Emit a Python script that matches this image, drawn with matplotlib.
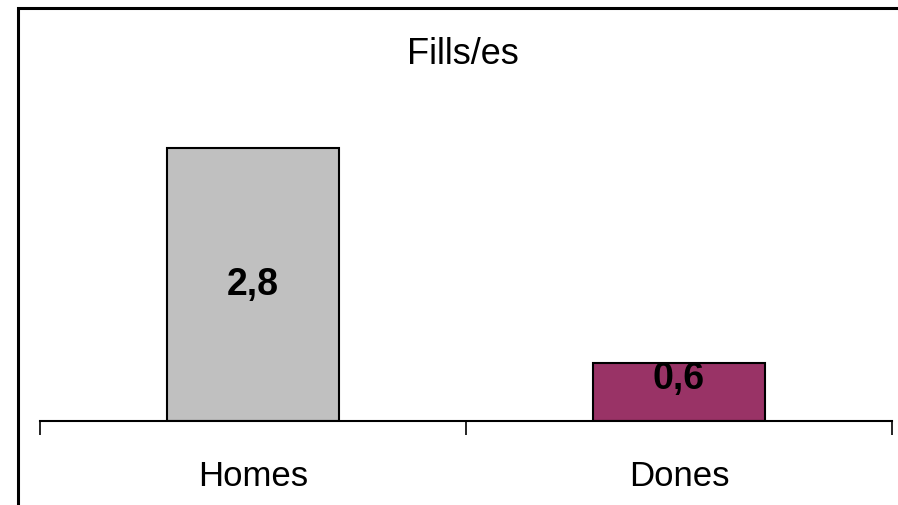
import matplotlib
matplotlib.use('Agg')
import matplotlib.pyplot as plt
from matplotlib.patches import Rectangle

categories = ['Homes', 'Dones']
values = [2.8, 0.6]
value_labels = ['2,8', '0,6']
bar_colors = ['#C0C0C0', '#993366']
title = 'Fills/es'

plt.rcParams['font.family'] = ['Liberation Sans', 'DejaVu Sans']

fig = plt.figure(figsize=(8.98, 5.05), dpi=100)
ax = fig.add_axes([0.0445, 0.1663, 0.9488, 0.6753])

x = range(len(categories))
bars = ax.bar(x, values, width=0.404, color=bar_colors, edgecolor='black', linewidth=1.5)

# value labels, pushed up inside short bars
for b, v, lab in zip(bars, values, value_labels):
    y = max(v / 2, 0.43)
    ax.text(b.get_x() + b.get_width() / 2, y, lab, ha='center', va='center',
            fontsize=27, fontweight='bold')

ax.set_xlim(-0.5, 1.5)
ax.set_ylim(0, 3.5)
ax.set_xticks([-0.5, 0.5, 1.5], minor=False)
ax.set_xticklabels([])
ax.set_xticks(list(x), minor=True)
ax.set_xticklabels(categories, minor=True, fontsize=25)
ax.tick_params(axis='x', which='major', direction='out', length=10, width=1.2)
ax.tick_params(axis='x', which='minor', length=0, pad=28)
ax.set_yticks([])
for s in ['top', 'right', 'left']:
    ax.spines[s].set_visible(False)
ax.spines['bottom'].set_linewidth(1.5)

fig.text(463 / 898, 1 - 54 / 505, title, ha='center', va='center', fontsize=26)

# outer chart border (runs off right and bottom)
fig.patches.append(Rectangle((17.5 / 898, -0.05), 1.2, 1 - 7.5 / 505 + 0.05,
                             transform=fig.transFigure, fill=False,
                             edgecolor='black', linewidth=2.2))

fig.savefig('out.png', dpi=100)
